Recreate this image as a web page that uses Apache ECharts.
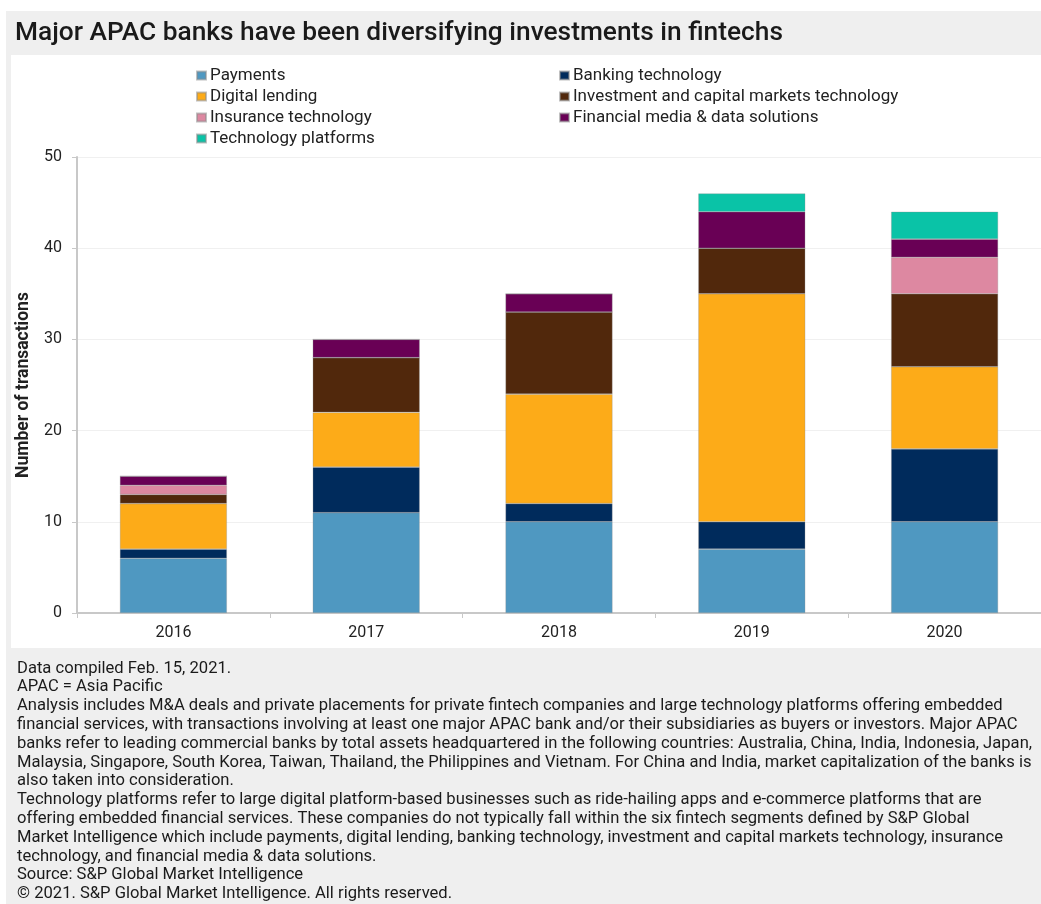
<!DOCTYPE html>
<html>
<head>
<meta charset="utf-8">
<script src="https://cdn.jsdelivr.net/npm/echarts@6/dist/echarts.min.js"></script>
<style>
html,body{margin:0;padding:0;background:#fff;}
#chart{width:1041px;height:904px;}
</style>
</head>
<body>
<div id="chart"></div>
<script>
var titleText = 'Major APAC banks have been diversifying investments in fintechs';
var categories = ['2016', '2017', '2018', '2019', '2020'];
var seriesNames = ['Payments', 'Banking technology', 'Digital lending', 'Investment and capital markets technology', 'Insurance technology', 'Financial media & data solutions', 'Technology platforms'];
var payments = [6, 11, 10, 7, 10];
var bankingTech = [1, 5, 2, 3, 8];
var digitalLending = [5, 6, 12, 25, 9];
var investmentTech = [1, 6, 9, 5, 8];
var insuranceTech = [1, 0, 0, 0, 4];
var financialMedia = [1, 2, 2, 4, 2];
var techPlatforms = [0, 0, 0, 2, 3];
var yTicks = [0, 10, 20, 30, 40, 50];
var yAxisName = 'Number of transactions';
var footnotes = [
  'Data compiled Feb. 15, 2021.',
  'APAC = Asia Pacific',
  'Analysis includes M&A deals and private placements for private fintech companies and large technology platforms offering embedded',
  'financial services, with transactions involving at least one major APAC bank and/or their subsidiaries as buyers or investors. Major APAC',
  'banks refer to leading commercial banks by total assets headquartered in the following countries: Australia, China, India, Indonesia, Japan,',
  'Malaysia, Singapore, South Korea, Taiwan, Thailand, the Philippines and Vietnam. For China and India, market capitalization of the banks is',
  'also taken into consideration.',
  'Technology platforms refer to large digital platform-based businesses such as ride-hailing apps and e-commerce platforms that are',
  'offering embedded financial services. These companies do not typically fall within the six fintech segments defined by S&P Global',
  'Market Intelligence which include payments, digital lending, banking technology, investment and capital markets technology, insurance',
  'technology, and financial media & data solutions.',
  'Source: S&P Global Market Intelligence',
  '\u00a9 2021. S&P Global Market Intelligence. All rights reserved.'
];
var colors = ['#4f98c1', '#002b5c', '#fdab18', '#51280c', '#dd88a1', '#690055', '#0ac3a7'];
var seriesData = [payments, bankingTech, digitalLending, investmentTech, insuranceTech, financialMedia, techPlatforms];

var FONT = 'Roboto';
var chart = echarts.init(document.getElementById('chart'), null, {renderer: 'canvas'});

var series = seriesNames.map(function (name, i) {
  return {
    name: name,
    type: 'bar',
    stack: 'total',
    barWidth: 107,
    data: seriesData[i],
    itemStyle: {color: colors[i], borderColor: 'rgba(140,140,140,0.55)', borderWidth: 0.6},
    emphasis: {disabled: true}
  };
});

var legendStyle = {
  orient: 'vertical',
  icon: 'rect',
  itemWidth: 9,
  itemHeight: 8,
  itemGap: 4,
  selectedMode: false,
  padding: 0,
  textStyle: {fontFamily: FONT, fontSize: 17, color: '#222', padding: [0, 0, 0, -1]}
};

var graphics = [
  {type: 'rect', left: 6, top: 11, shape: {width: 1035, height: 893}, style: {fill: '#efefef'}, z: -10, silent: true},
  {type: 'rect', left: 11, top: 55, shape: {width: 1030, height: 593}, style: {fill: '#ffffff'}, z: -9, silent: true},
  {type: 'text', left: 15, top: 20, style: {text: titleText, font: '500 26.3px ' + FONT, fill: '#1a1a1a'}, z: 10, silent: true}
];
footnotes.forEach(function (line, i) {
  graphics.push({type: 'text', left: 17, top: 660 + i * 18.8, style: {text: line, font: '16.6px ' + FONT, fill: '#1a1a1a'}, z: 10, silent: true});
});

var option = {
  animation: false,
  backgroundColor: '#ffffff',
  graphic: graphics,
  legend: [
    Object.assign({left: 196, top: 67, data: [seriesNames[0], seriesNames[2], seriesNames[4], seriesNames[6]]}, legendStyle),
    Object.assign({left: 559, top: 67, data: [seriesNames[1], seriesNames[3], seriesNames[5]]}, legendStyle)
  ],
  grid: {left: 77, right: 0, top: 157, bottom: 291, containLabel: false},
  xAxis: {
    type: 'category',
    data: categories,
    axisLine: {lineStyle: {color: '#c8c8c8', width: 2}},
    axisTick: {show: true, length: 5, lineStyle: {color: '#c8c8c8'}},
    axisLabel: {fontFamily: FONT, fontSize: 16, color: '#222', margin: 12}
  },
  yAxis: {
    type: 'value',
    min: yTicks[0],
    max: yTicks[yTicks.length - 1],
    interval: 10,
    name: yAxisName,
    nameLocation: 'middle',
    nameGap: 39,
    nameTextStyle: {fontFamily: FONT, fontSize: 17.5, fontWeight: 'bold', color: '#222'},
    axisLine: {show: true, lineStyle: {color: '#c8c8c8', width: 2}},
    axisTick: {show: true, length: 5, lineStyle: {color: '#c8c8c8'}},
    axisLabel: {fontFamily: FONT, fontSize: 16, color: '#222', margin: 15},
    splitLine: {lineStyle: {color: '#f0f0f0', width: 1}}
  },
  series: series
};
chart.setOption(option);
</script>
</body>
</html>
